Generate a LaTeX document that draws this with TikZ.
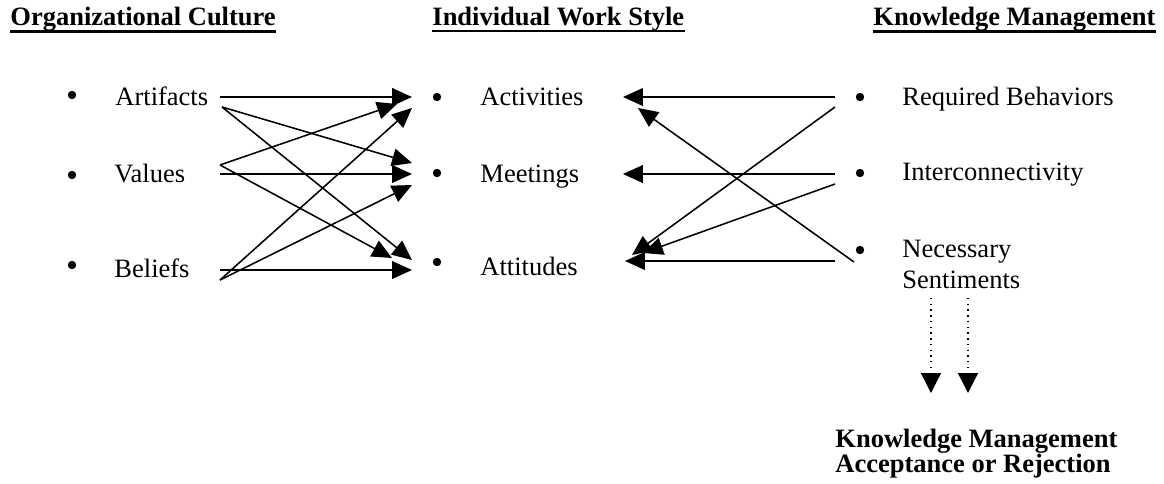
\documentclass[tikz,border=0pt]{standalone}
\usepackage{fontspec}
\setmainfont{Liberation Serif}
\usetikzlibrary{arrows.meta}

\tikzset{
	hdr/.style={font=\fontsize{12}{14}\selectfont\bfseries, inner sep=0pt, anchor=base west},
	item/.style={font=\fontsize{12}{14}\selectfont, inner sep=0pt, anchor=base west},
	bulletdot/.style={circle, fill=black, inner sep=0pt, minimum size=3.8pt},
	link/.style={line width=0.7pt, -{Triangle[length=9pt, width=8pt]}},
	hint/.style={dotted, line width=0.6pt, -{Triangle[length=9pt, width=9pt]}}
}

\begin{document}
\begin{tikzpicture}[x=0.4528pt, y=-0.4528pt]
	\useasboundingbox (0,0) rectangle (1164,484);

	\node[hdr] (oc) at (10,25) {Organizational Culture};
	\node[hdr] (iws) at (432,25) {Individual Work Style};
	\node[hdr] (km) at (873,25) {Knowledge Management};
	\foreach \h in {oc, iws, km}
		\draw[line width=1.1pt] (\h.south west) -- (\h.south east);

	\node[bulletdot] (b1) at (72,95) {};
	\node[bulletdot] (b2) at (72,175) {};
	\node[bulletdot] (b3) at (72,265) {};
	\node[bulletdot] (b4) at (437,97) {};
	\node[bulletdot] (b5) at (437,173) {};
	\node[bulletdot] (b6) at (437,262) {};
	\node[bulletdot] (b7) at (860,97) {};
	\node[bulletdot] (b8) at (860,173) {};
	\node[bulletdot] (b9) at (860,250) {};

	\node[item] (art) at (115,105) {Artifacts};
	\node[item] (val) at (114,182) {Values};
	\node[item] (bel) at (114,277) {Beliefs};
	\node[item] (act) at (480,105) {Activities};
	\node[item] (mee) at (480,182) {Meetings};
	\node[item] (att) at (480,275) {Attitudes};
	\node[item] (req) at (902,105) {Required Behaviors};
	\node[item] (int) at (902,180) {Interconnectivity};
	\node[item, align=left] (nec) at (902,288) {Necessary\\Sentiments};
	\node[hdr, align=left, font=\fontsize{12}{11.3}\selectfont\bfseries] (kma) at (835,472)
		{Knowledge Management\\Acceptance or Rejection};

	\coordinate (art-h) at (220,97);
	\coordinate (art-d) at (222,107);
	\coordinate (val-d) at (220,165);
	\coordinate (val-h) at (220,174);
	\coordinate (bel-h) at (220,270);
	\coordinate (bel-d) at (220,280);
	\coordinate (act-a) at (412,97);
	\coordinate (act-b) at (397,104);
	\coordinate (act-c) at (412,108);
	\coordinate (mee-a) at (412,163);
	\coordinate (mee-b) at (412,174);
	\coordinate (mee-c) at (412,185);
	\coordinate (att-a) at (392,258);
	\coordinate (att-b) at (412,260);
	\coordinate (att-c) at (412,270);

	\coordinate (req-h) at (835,97);
	\coordinate (req-d) at (835,107);
	\coordinate (int-h) at (835,174);
	\coordinate (int-d) at (835,184);
	\coordinate (nec-h) at (835,261);
	\coordinate (nec-d) at (854,262);
	\coordinate (act-r) at (623,97);
	\coordinate (act-s) at (638,108);
	\coordinate (mee-r) at (623,174);
	\coordinate (att-r) at (625,261);
	\coordinate (att-s) at (632,255);
	\coordinate (att-t) at (643,253);

	\coordinate (sen-a) at (931,298);
	\coordinate (sen-b) at (968,298);
	\coordinate (kma-a) at (931,393);
	\coordinate (kma-b) at (968,393);

	\draw[link] (art-h) -- (act-a);
	\draw[link] (art-d) -- (mee-a);
	\draw[link] (art-d) -- (att-b);
	\draw[link] (val-d) -- (act-b);
	\draw[link] (val-h) -- (mee-b);
	\draw[link] (val-d) -- (att-a);
	\draw[link] (bel-d) -- (act-c);
	\draw[link] (bel-d) -- (mee-c);
	\draw[link] (bel-h) -- (att-c);

	\draw[link] (req-h) -- (act-r);
	\draw[link] (req-d) -- (att-s);
	\draw[link] (int-h) -- (mee-r);
	\draw[link] (int-d) -- (att-t);
	\draw[link] (nec-h) -- (att-r);
	\draw[link] (nec-d) -- (act-s);

	\draw[hint] (sen-a) -- (kma-a);
	\draw[hint] (sen-b) -- (kma-b);
\end{tikzpicture}
\end{document}
